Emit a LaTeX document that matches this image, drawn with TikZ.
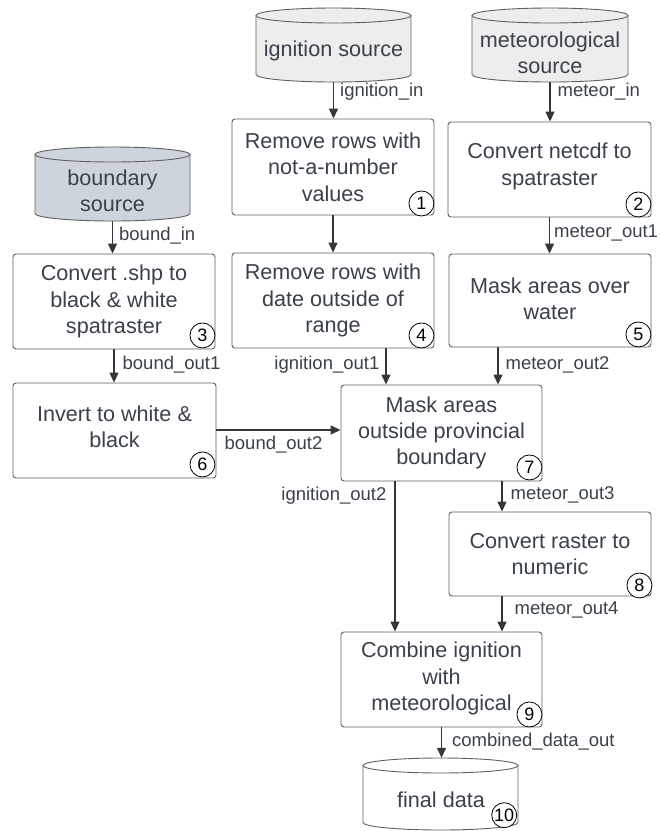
\documentclass[tikz,border=0pt]{standalone}
\usepackage{fontspec}
\setmainfont{Liberation Sans}
\usetikzlibrary{arrows.meta,calc,fit}

\definecolor{ink}{RGB}{58,65,74}
\definecolor{edge}{RGB}{96,96,96}
\definecolor{wire}{RGB}{51,55,60}
\definecolor{srcfill}{RGB}{237,237,237}
\definecolor{bndfill}{RGB}{206,212,220}

\tikzset{
  stepbox/.style={draw=edge, line width=0.9pt, rounded corners=3pt, fill=white, inner sep=0pt},
  boxtext/.style={text=ink, font=\fontsize{21.6}{26.3}\selectfont, align=center, inner sep=0pt},
  flow/.style={draw=wire, line width=1.3pt, -{Triangle[length=10pt,width=9pt]}},
  lbl/.style={text=ink, font=\fontsize{18.5}{22}\selectfont, inner sep=0pt},
  badge/.style={circle, draw=black, line width=0.8pt, fill=white, minimum size=25pt,
                inner sep=0pt, font=\fontsize{18}{20}\selectfont, text=black},
  drumline/.style={draw=edge, line width=0.9pt},
}

% data store drawn as a cylinder: name, left x, right x, top y, bottom y, fill colour
\newcommand\drum[6]{%
  \fill[#6] (#2,{#4+7.5}) -- (#2,{#5-7.5})
     arc[start angle=180,end angle=0,x radius={(#3-#2)/2},y radius=7.5]
     -- (#3,{#4+7.5})
     arc[start angle=0,end angle=-180,x radius={(#3-#2)/2},y radius=7.5] -- cycle;
  \draw[drumline] (#2,{#4+7.5}) -- (#2,{#5-7.5})
     arc[start angle=180,end angle=0,x radius={(#3-#2)/2},y radius=7.5]
     -- (#3,{#4+7.5});
  \draw[drumline] ({(#2+#3)/2},{#4+7.5}) ellipse[x radius={(#3-#2)/2},y radius=7.5];
  \node[inner sep=0pt, fit={(#2,#4) (#3,#5)}] (#1) {};
}

\begin{document}
\begin{tikzpicture}[x=1pt, y=-1pt]
\useasboundingbox (0,0) rectangle (660,831);

% ---- data sources and sink ----
\drum{cign}{256}{411}{8}{82}{srcfill}
\node[boxtext] (cignt) at (333.5,51) {ignition source};
\drum{cmet}{472}{628}{8}{82}{srcfill}
\node[boxtext] (cmett) at (550,52.5) {meteorological\\source};
\drum{cbnd}{35}{190}{147}{221}{bndfill}
\node[boxtext] (cbndt) at (112.5,190.5) {boundary\\source};
\drum{cfin}{363}{518}{758}{830}{white}
\node[boxtext] (cfint) at (441,800) {final data};

% ---- processing steps ----
\node[stepbox, fit={(232,119) (434,215)}] (b1) {};
\node[boxtext] (b1t) at (b1) {Remove rows with\\not-a-number\\values};
\node[stepbox, fit={(448,122) (651,217)}] (b2) {};
\node[boxtext] (b2t) at ($(b2)+(0,-3)$) {Convert netcdf to\\spatraster};
\node[stepbox, fit={(13,254) (215,349)}] (b3) {};
\node[boxtext] (b3t) at (b3) {Convert .shp to\\black \& white\\spatraster};
\node[stepbox, fit={(232,253) (434,348)}] (b4) {};
\node[boxtext] (b4t) at (b4) {Remove rows with\\date outside of\\range};
\node[stepbox, fit={(449,254) (651,347)}] (b5) {};
\node[boxtext] (b5t) at ($(b5)+(0,-2)$) {Mask areas over\\water};
\node[stepbox, fit={(13,383) (216,478)}] (b6) {};
\node[boxtext] (b6t) at ($(b6)+(0,-4)$) {Invert to white \&\\black};
\node[stepbox, fit={(341,385) (542,481)}] (b7) {};
\node[boxtext] (b7t) at (b7) {Mask areas\\outside provincial\\boundary};
\node[stepbox, fit={(449,512) (651,596)}] (b8) {};
\node[boxtext] (b8t) at (b8) {Convert raster to\\numeric};
\node[stepbox, fit={(341,632) (542,727)}] (b9) {};
\node[boxtext] (b9t) at ($(b9)+(0,-1)$) {Combine ignition\\with\\meteorological};

% ---- step numbers ----
\node[badge] (n1) at ($(b1.south east)+(-13,-12)$) {1};
\node[badge] (n2) at ($(b2.south east)+(-13,-13)$) {2};
\node[badge] (n3) at ($(b3.south east)+(-13,-14)$) {3};
\node[badge] (n4) at ($(b4.south east)+(-13,-13)$) {4};
\node[badge] (n5) at ($(b5.south east)+(-13,-13)$) {5};
\node[badge] (n6) at ($(b6.south east)+(-14,-14)$) {6};
\node[badge] (n7) at ($(b7.south east)+(-13,-14)$) {7};
\node[badge] (n8) at ($(b8.south east)+(-12,-11)$) {8};
\node[badge] (n9) at ($(b9.south east)+(-13,-13)$) {9};
\node[badge] (n10) at ($(cfin.south east)+(-14,-15)$) {10};

% ---- connector columns ----
\coordinate (xi1) at (386,0);
\coordinate (xm2) at (498,0);
\coordinate (xi2) at (395,0);
\coordinate (xm3) at (502,0);

% ---- connectors ----
\draw[flow] (cign.south) -- node[lbl, pos=0.27, anchor=west, xshift=6pt] (l1) {ignition\_in} (cign.south |- b1.north);
\draw[flow] (cmet.south) -- node[lbl, pos=0.25, anchor=west, xshift=7pt] (l2) {meteor\_in} (cmet.south |- b2.north);
\draw[flow] (cbnd.south) -- node[lbl, pos=0.45, anchor=west, xshift=6pt] (l3) {bound\_in} (cbnd.south |- b3.north);
\draw[flow] (b1.south) -- (b1.south |- b4.north);
\draw[flow] (b2.south) -- node[lbl, pos=0.43, anchor=west, xshift=4pt] (l4) {meteor\_out1} (b2.south |- b5.north);
\draw[flow] (b3.south) -- node[lbl, pos=0.47, anchor=west, xshift=8pt] (l5) {bound\_out1} (b3.south |- b6.north);
\draw[flow] (b4.south -| xi1) -- node[lbl, pos=0.46, anchor=east, xshift=-6pt] (l6) {ignition\_out1} (b7.north -| xi1);
\draw[flow] (b5.south -| xm2) -- node[lbl, pos=0.47, anchor=west, xshift=7pt] (l7) {meteor\_out2} (b7.north -| xm2);
\draw[flow] ($(b6.east)+(0,-0.5)$) -- node[lbl, pos=0.46, anchor=north, yshift=-5pt] (l8) {bound\_out2} ($(b6.east -| b7.west)+(0,-0.5)$);
\draw[flow] (b7.south -| xi2) -- node[lbl, pos=0.093, anchor=east, xshift=-8pt] (l9) {ignition\_out2} (b9.north -| xi2);
\draw[flow] (b7.south -| xm3) -- node[lbl, pos=0.45, anchor=west, xshift=8pt] (l10) {meteor\_out3} (b8.north -| xm3);
\draw[flow] (b8.south -| xm3) -- node[lbl, pos=0.39, anchor=west, xshift=12pt] (l11) {meteor\_out4} (b9.north -| xm3);
\draw[flow] (b9.south) -- node[lbl, pos=0.48, anchor=west, xshift=10pt] (l12) {combined\_data\_out} (b9.south |- cfin.north);
\end{tikzpicture}
\end{document}
